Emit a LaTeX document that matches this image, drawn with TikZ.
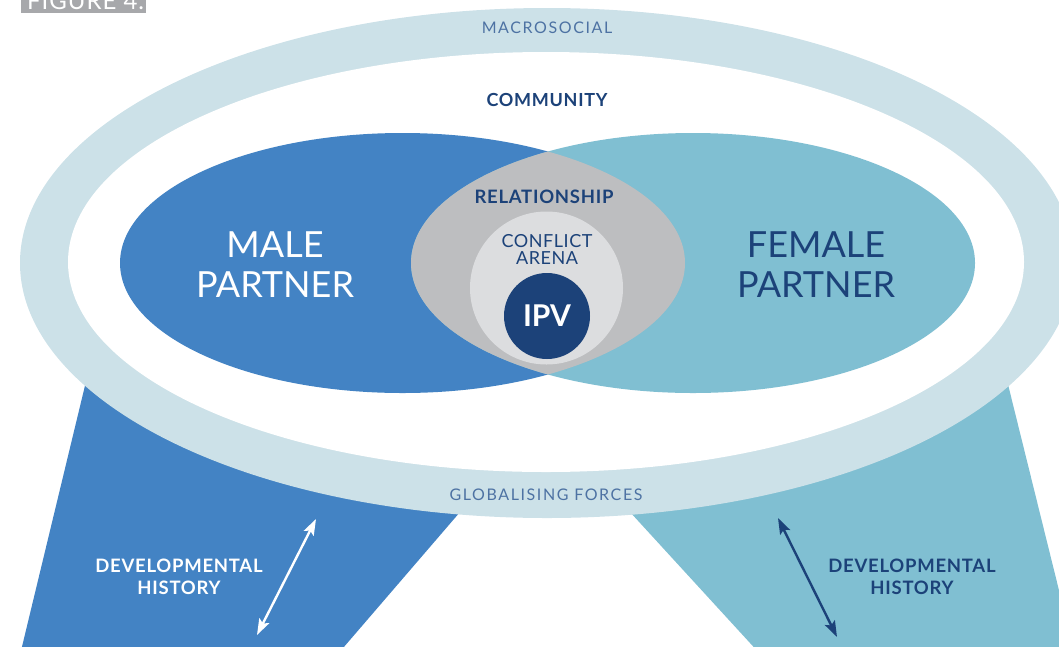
\documentclass[tikz,border=0pt]{standalone}
\usepackage{fontspec}
\setmainfont{Lato}
\usetikzlibrary{arrows.meta}
\definecolor{ringc}{HTML}{CCE1E8}
\definecolor{maleblue}{HTML}{4383C4}
\definecolor{femblue}{HTML}{80BFD2}
\definecolor{lensgray}{HTML}{BDBEC0}
\definecolor{arenagray}{HTML}{DCDDDF}
\definecolor{navy}{HTML}{1C4279}
\definecolor{steel}{HTML}{4D72A3}
\definecolor{labelgray}{HTML}{A7A8AB}
\tikzset{
  smalllbl/.style={font=\fontsize{16}{18}\selectfont\addfontfeature{LetterSpace=10}, text=steel, inner sep=0pt},
  boldlbl/.style={font=\bfseries\fontsize{18}{21}\selectfont\addfontfeature{LetterSpace=4}, text=navy, inner sep=0pt, align=center},
  biglbl/.style={font=\fontsize{36}{40}\selectfont, inner sep=0pt, align=center},
  arenalbl/.style={font=\fontsize{18}{17}\selectfont\addfontfeature{LetterSpace=3}, text=navy, inner sep=0pt, align=center},
  devarrow/.style={line width=2.4pt, {Stealth[length=16pt,width=11pt,inset=3pt]}-{Stealth[length=16pt,width=11pt,inset=3pt]}}
}
\begin{document}
\begin{tikzpicture}[x=1pt,y=-1pt]
\useasboundingbox (0,0) rectangle (1059,646);
\clip (0,0) rectangle (1059,646);
% figure label
\fill[labelgray] (21,-20) rectangle (146,13);
\node[anchor=base west, inner sep=0pt, text=white, font=\fontsize{24}{26}\selectfont\addfontfeature{LetterSpace=4}] (figlbl) at (27,9) {FIGURE 4.};
% legs
\fill[maleblue] (96,340) -- (20,655) -- (337,655) -- (522,440) -- cycle;
\fill[femblue] (564,440) -- (761,655) -- (1075,655) -- (997,340) -- cycle;
% rings
\fill[ringc] (547,263) ellipse [x radius=527pt, y radius=255pt];
\fill[white] (546,262) ellipse [x radius=478pt, y radius=210pt];
% partners
\fill[maleblue] (402.5,263) ellipse [x radius=282.5pt, y radius=130pt];
\fill[femblue] (693,263) ellipse [x radius=282pt, y radius=130pt];
\begin{scope}
  \clip (402.5,263) ellipse [x radius=282.5pt, y radius=130pt];
  \fill[lensgray] (693,263) ellipse [x radius=282pt, y radius=130pt];
\end{scope}
\fill[arenagray] (546.5,288) circle [radius=76.5pt];
\node[circle, fill=navy, minimum size=86pt, inner sep=0pt, text=white, font=\bfseries\fontsize{30}{30}\selectfont] (ipv) at (547,316) {IPV};
% labels
\node[smalllbl] (macro) at (547,28) {MACROSOCIAL};
\node[boldlbl] (comm) at (547,100) {COMMUNITY};
\node[biglbl, text=white] (male) at (275,265) {MALE\\PARTNER};
\node[biglbl, text=navy] (female) at (816,265) {FEMALE\\PARTNER};
\node[boldlbl, font=\bfseries\fontsize{18.5}{21}\selectfont\addfontfeature{LetterSpace=4}] (rel) at (544,197) {RELATIONSHIP};
\node[arenalbl] (arena) at (547,249) {CONFLICT\\ARENA};
\node[smalllbl] (glob) at (546,495) {GLOBALISING FORCES};
\node[boldlbl, text=white, font=\bfseries\fontsize{18.5}{22}\selectfont\addfontfeature{LetterSpace=4}] (devl) at (179,577) {DEVELOPMENTAL\\HISTORY};
\node[boldlbl, font=\bfseries\fontsize{18.5}{22}\selectfont\addfontfeature{LetterSpace=4}] (devr) at (912,577) {DEVELOPMENTAL\\HISTORY};
% arrows
\coordinate (la) at (316,519);
\coordinate (lb) at (257,635);
\coordinate (ra) at (778,518);
\coordinate (rb) at (837,637);
\draw[devarrow, white] (la) -- (lb);
\draw[devarrow, navy] (ra) -- (rb);
\end{tikzpicture}
\end{document}
